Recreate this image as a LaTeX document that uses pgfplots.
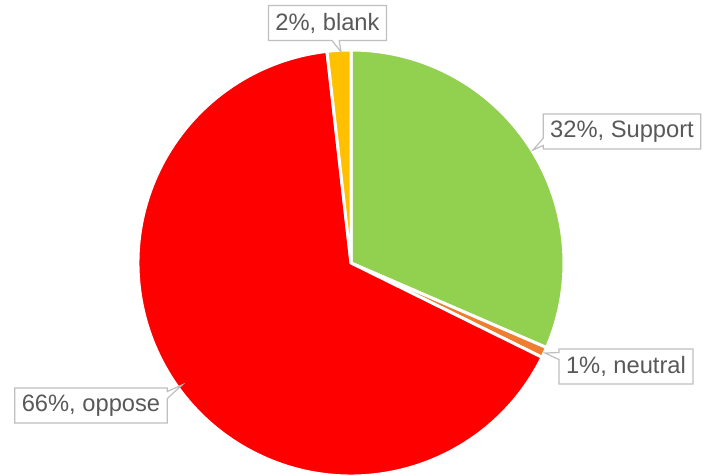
\documentclass[border=0pt]{standalone}
\usepackage{pgfplots}
\pgfplotsset{compat=1.18}
\usepackage{pgfplotstable}
\usetikzlibrary{shapes.callouts}
\usepackage{fontspec}
\setmainfont{Liberation Sans}
\definecolor{cgreen}{HTML}{92D050}
\definecolor{corange}{HTML}{ED7D31}
\definecolor{cred}{HTML}{FF0000}
\definecolor{cgold}{HTML}{FFC000}
\definecolor{ctext}{HTML}{595959}
\definecolor{cbord}{HTML}{BFBFBF}
\tikzset{lbl/.style={rectangle callout, draw=cbord, fill=white, text=ctext,
    font=\fontsize{23.7}{26}\selectfont, inner xsep=7pt, inner ysep=0pt,
    minimum height=35pt, line width=1.2pt}}

\pgfplotstableread[col sep=comma]{
label,value
Support,31.5
neutral,0.8
oppose,65.9
blank,1.8
}\piedata

\pgfplotstablegetelem{0}{value}\of\piedata \let\vA\pgfplotsretval
\pgfplotstablegetelem{1}{value}\of\piedata \let\vB\pgfplotsretval
\pgfplotstablegetelem{2}{value}\of\piedata \let\vC\pgfplotsretval
\pgfplotstablegetelem{3}{value}\of\piedata \let\vD\pgfplotsretval
\pgfmathsetmacro\aA{90}
\pgfmathsetmacro\aB{\aA-3.6*\vA}
\pgfmathsetmacro\aC{\aB-3.6*\vB}
\pgfmathsetmacro\aD{\aC-3.6*\vC}
\pgfmathsetmacro\aE{\aD-3.6*\vD}

\begin{document}
\begin{tikzpicture}
\begin{axis}[
  scale only axis, width=705pt, height=476pt,
  xmin=0, xmax=705, ymin=0, ymax=476,
  hide axis, clip=false,
]
\def\cx{351}\def\cy{213}\def\R{213pt}
\fill[cgreen, draw=white, line width=3pt, line join=round] (axis cs:\cx,\cy) -- ++(\aA:\R) arc[start angle=\aA, end angle=\aB, radius=\R] -- cycle;
\fill[corange, draw=white, line width=3pt, line join=round] (axis cs:\cx,\cy) -- ++(\aB:\R) arc[start angle=\aB, end angle=\aC, radius=\R] -- cycle;
\fill[cred, draw=white, line width=3pt, line join=round] (axis cs:\cx,\cy) -- ++(\aC:\R) arc[start angle=\aC, end angle=\aD, radius=\R] -- cycle;
\fill[cgold, draw=white, line width=3pt, line join=round] (axis cs:\cx,\cy) -- ++(\aD:\R) arc[start angle=\aD, end angle=\aE, radius=\R] -- cycle;

\node[lbl, callout absolute pointer={(axis cs:341,424)}] at (axis cs:327.5,453) {2\%, blank};
\node[lbl, callout absolute pointer={(axis cs:533,326)}] at (axis cs:622,344.5) {32\%, Support};
\node[lbl, callout absolute pointer={(axis cs:545,123)}] at (axis cs:626,109.5) {1\%, neutral};
\node[lbl, callout absolute pointer={(axis cs:182,91)}] at (axis cs:91,70.5) {66\%, oppose};
\end{axis}
\pgfresetboundingbox
\path (current axis.south west) rectangle (current axis.north east);
\end{tikzpicture}
\end{document}
